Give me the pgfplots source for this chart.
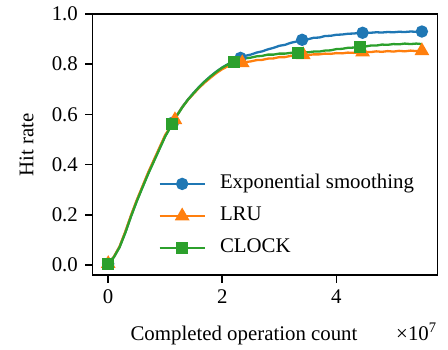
\documentclass[border=0pt]{standalone}
\usepackage{fontspec}
\setmainfont{Liberation Serif}
\usepackage{pgfplots}
\usepackage{pgfplotstable}
\pgfplotsset{compat=1.18}
\definecolor{tabblue}{HTML}{1F77B4}
\definecolor{taborange}{HTML}{FF7F0E}
\definecolor{tabgreen}{HTML}{2CA02C}

\pgfplotstableread{
x y
0 0.005
0.1 0.032
0.2 0.072
0.3 0.130
0.4 0.195
0.5 0.255
0.6 0.310
0.7 0.365
0.8 0.415
0.9 0.465
1.0 0.515
1.14 0.568
1.2 0.595
1.3 0.630
1.4 0.660
1.5 0.686
1.6 0.711
1.7 0.733
1.8 0.753
1.9 0.771
2.0 0.787
2.1 0.800
2.2 0.812
2.32 0.825
2.4 0.833
2.5 0.838
2.6 0.846
2.7 0.851
2.8 0.859
2.9 0.865
3.0 0.873
3.1 0.877
3.2 0.885
3.3 0.890
3.40 0.897
3.5 0.899
3.6 0.905
3.7 0.906
3.8 0.912
3.9 0.913
4.0 0.917
4.1 0.918
4.2 0.921
4.3 0.922
4.4 0.924
4.46 0.925
4.6 0.925
4.7 0.927
4.8 0.926
4.9 0.928
5.0 0.927
5.1 0.929
5.2 0.928
5.3 0.930
5.4 0.929
5.5 0.930
}\tblexp

\pgfplotstableread{
x y
0 0.005
0.1 0.033
0.2 0.074
0.3 0.133
0.4 0.198
0.5 0.258
0.6 0.313
0.7 0.368
0.8 0.418
0.9 0.468
1.0 0.518
1.17 0.578
1.2 0.595
1.3 0.629
1.4 0.658
1.5 0.683
1.6 0.707
1.7 0.728
1.8 0.747
1.9 0.765
2.0 0.780
2.1 0.792
2.2 0.799
2.3 0.803
2.35 0.805
2.4 0.808
2.5 0.811
2.6 0.816
2.7 0.817
2.8 0.822
2.9 0.823
3.0 0.828
3.1 0.828
3.2 0.833
3.3 0.833
3.42 0.837
3.5 0.836
3.6 0.839
3.7 0.839
3.8 0.842
3.9 0.841
4.0 0.844
4.1 0.843
4.2 0.846
4.3 0.845
4.46 0.848
4.6 0.848
4.7 0.851
4.8 0.849
4.9 0.852
5.0 0.850
5.1 0.853
5.2 0.851
5.3 0.854
5.4 0.852
5.5 0.853
}\tbllru

\pgfplotstableread{
x y
0 0.005
0.1 0.031
0.2 0.071
0.3 0.128
0.4 0.193
0.5 0.253
0.6 0.308
0.7 0.362
0.8 0.412
0.9 0.462
1.0 0.512
1.12 0.560
1.2 0.593
1.3 0.628
1.4 0.659
1.5 0.685
1.6 0.710
1.7 0.732
1.8 0.752
1.9 0.770
2.0 0.786
2.1 0.799
2.2 0.810
2.3 0.816
2.4 0.823
2.5 0.826
2.6 0.831
2.7 0.833
2.8 0.838
2.9 0.838
3.0 0.842
3.1 0.842
3.2 0.845
3.33 0.846
3.4 0.848
3.5 0.847
3.6 0.850
3.7 0.850
3.8 0.854
3.9 0.855
4.0 0.860
4.1 0.861
4.2 0.865
4.3 0.866
4.42 0.869
4.5 0.870
4.6 0.874
4.7 0.874
4.8 0.878
4.9 0.877
5.0 0.880
5.1 0.879
5.2 0.882
5.3 0.880
5.4 0.882
5.5 0.880
}\tblclock

\begin{document}
\begin{tikzpicture}[font=\fontsize{10}{12}\selectfont]
\begin{axis}[
  name=ax,
  scale only axis,
  width=165.6pt, height=125.4pt,
  xmin=-0.275, xmax=5.775,
  ymin=-0.041, ymax=1.0,
  xtick={0,2,4},
  ytick={0,0.2,0.4,0.6,0.8,1.0},
  scaled ticks=false,
  /pgf/number format/assume math mode=true,
  yticklabel style={/pgf/number format/.cd, fixed, fixed zerofill, precision=1},
  tick label style={font=\fontsize{10}{12}\selectfont},
  tick align=outside,
  xtick pos=left, ytick pos=left,
  major tick length=3.5pt,
  major tick style={line width=0.8pt, black},
  axis line style={line width=0.8pt},
  xlabel={Completed operation count},
  ylabel={Hit rate},
  xlabel style={at={([yshift=-31.2pt]axis description cs:0.439,0)}, anchor=base, inner sep=0pt},
  ylabel style={at={([xshift=-31.6pt]axis description cs:0,0.5)}, anchor=center, inner sep=0pt},
  legend cell align=left,
  legend image code/.code={\draw[mark indices={2}] plot coordinates {(0cm,0cm) (0.38cm,0cm) (0.76cm,0cm)};},
  legend style={draw=none, fill=none, at={(axis description cs:0.19,0.391)}, anchor=north west,
    inner xsep=0pt, inner ysep=0pt, row sep=5.4pt,
    nodes={inner sep=0pt, text height=7pt, text depth=3pt},
    /tikz/every odd column/.append style={column sep=6.8pt}},
]
\addplot[color=tabblue, line width=1.1pt, mark=*, mark size=2.4pt, mark indices={1,12,24,35,46,56}, mark options={solid}] table[x=x,y=y] {\tblexp};
\addlegendentry{Exponential smoothing}
\addplot[color=taborange, line width=1.1pt, mark=triangle*, mark size=3pt, mark indices={1,12,25,36,46,56}, mark options={solid}] table[x=x,y=y] {\tbllru};
\addlegendentry{LRU}
\addplot[color=tabgreen, line width=1.1pt, mark=square*, mark size=2.3pt, mark indices={1,12,23,34,45}, mark options={solid}] table[x=x,y=y] {\tblclock};
\addlegendentry{CLOCK}
\end{axis}
\node[anchor=base east, inner sep=0pt] at ([yshift=-31.2pt]ax.south east) {×10\textsuperscript{7}};
\pgfresetboundingbox
\path ([shift={(-44.4pt,-35.4pt)}]ax.south west) rectangle ([shift={(5pt,6.7pt)}]ax.north east);
\end{tikzpicture}
\end{document}
